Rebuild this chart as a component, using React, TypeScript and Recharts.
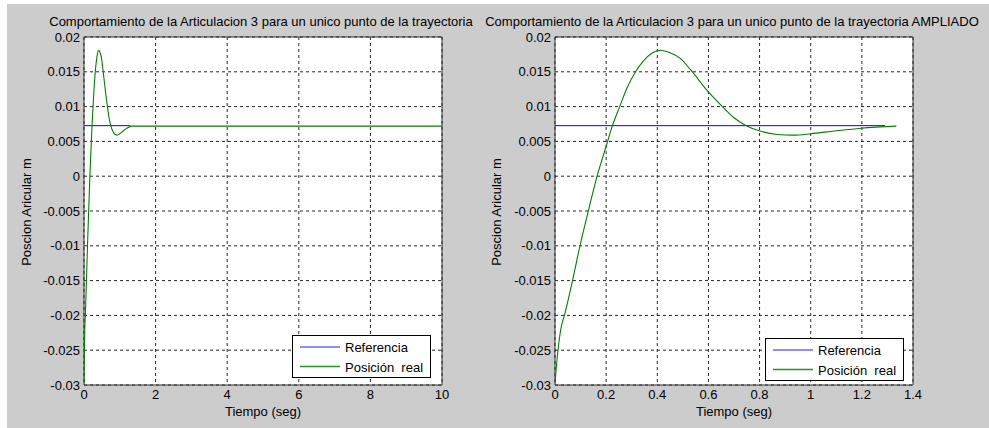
import { CartesianGrid, Legend, Line, LineChart, ReferenceArea, XAxis, YAxis } from "recharts";

const tiempo = [0, 0.009, 0.022, 0.039, 0.069, 0.097, 0.131, 0.163, 0.2, 0.224, 0.253, 0.282, 0.315, 0.347, 0.38, 0.413, 0.452, 0.491, 0.53, 0.598, 0.655, 0.7, 0.746, 0.805, 0.87, 0.93, 1.0, 1.093, 1.197, 1.335];
const posicionReal = [-0.0298, -0.0259, -0.0221, -0.0197, -0.0149, -0.0101, -0.0049, -0.0002, 0.0043, 0.0072, 0.01, 0.0127, 0.015, 0.0166, 0.0177, 0.0181, 0.0177, 0.0169, 0.0153, 0.0122, 0.01, 0.0084, 0.0073, 0.00645, 0.006, 0.0059, 0.0061, 0.0065, 0.0069, 0.0072];
// en la grafica completa la posicion se queda fija hasta t = 10
const colaTiempo = [10];
const colaPosicion = [0.0072];

const referenciaTiempo = [0, 1.29];
const referencia = [0.00726, 0.00726];

const yTicks = [-0.03, -0.025, -0.02, -0.015, -0.01, -0.005, 0, 0.005, 0.01, 0.015, 0.02];
const xTicksCompleto = [0, 2, 4, 6, 8, 10];
const xTicksAmpliado = [0, 0.2, 0.4, 0.6, 0.8, 1, 1.2, 1.4];

const TITULO = "Comportamiento de la Articulacion 3 para un unico punto de la trayectoria";
const SERIES = ["Referencia", "Posición  real"];
const FONT = "Arial, 'Liberation Sans', sans-serif";
const AZUL = "#0000ff";
const VERDE = "#008000";

const realAmpliado = tiempo.map((t, i) => ({ t, v: posicionReal[i] }));
const realCompleto = [...realAmpliado, ...colaTiempo.map((t, i) => ({ t, v: colaPosicion[i] }))];
const refData = referenciaTiempo.map((t, i) => ({ t, v: referencia[i] }));

const tickStyle = { fill: "#000", fontSize: 13, fontFamily: FONT };

function LegendBox({ payload }: any) {
  const items = (payload || [])
    .filter((p: any) => SERIES.includes(p.value))
    .sort((a: any, b: any) => SERIES.indexOf(a.value) - SERIES.indexOf(b.value));
  return (
    <svg width={139} height={43} style={{ display: "block" }}>
      <rect x={0.5} y={0.5} width={138} height={42} fill="#fff" stroke="#000" />
      {items.map((p: any, i: number) => {
        const cy = 12 + i * 19.5;
        return (
          <g key={p.value}>
            <line x1={8} x2={48} y1={cy} y2={cy} stroke={p.color} strokeWidth={1.3} strokeOpacity={i === 0 ? 0.6 : 0.85} />
            <text x={53} y={cy + 5} fontSize={13} fontFamily={FONT} fill="#000" style={{ whiteSpace: "pre" }}>{p.value}</text>
          </g>
        );
      })}
    </svg>
  );
}

function Panel({ width, yAxisWidth, right, xMax, xTicks, real, legendLeft, legendTop }: any) {
  return (
    <LineChart width={width} height={424} margin={{ top: 33, right, bottom: 0, left: 0 }}>
      <CartesianGrid stroke="#000" strokeDasharray="3 3" strokeOpacity={0.85} fill="#fff" />
      <XAxis
        type="number"
        dataKey="t"
        domain={[0, xMax]}
        ticks={xTicks}
        allowDataOverflow
        height={43}
        tick={tickStyle}
        tickLine={false}
        tickSize={4}
        tickMargin={1}
        axisLine={false}
        label={{ value: "Tiempo (seg)", position: "insideBottom", offset: 12, fill: "#000", fontSize: 13, fontFamily: FONT }}
      />
      <YAxis
        type="number"
        dataKey="v"
        domain={[-0.03, 0.02]}
        ticks={yTicks}
        allowDataOverflow
        width={yAxisWidth}
        tick={tickStyle}
        tickLine={false}
        tickSize={4}
        tickMargin={0}
        axisLine={false}
        tickFormatter={(v: number) => String(v)}
      />
      <Line data={refData} dataKey="v" name={SERIES[0]} type="linear" stroke={AZUL} strokeWidth={1} dot={false} isAnimationActive={false} />
      <Line data={real} dataKey="v" name={SERIES[1]} type="monotone" stroke={VERDE} strokeWidth={1.1} dot={false} isAnimationActive={false} />
      <ReferenceArea x1={0} x2={xMax} y1={-0.03} y2={0.02} fill="none" stroke="#333" strokeWidth={1} ifOverflow="visible" />
      <Legend
        layout="vertical"
        align="center"
        verticalAlign="middle"
        wrapperStyle={{ left: legendLeft, top: legendTop, width: 139, height: 43 }}
        content={(props: any) => <LegendBox {...props} />}
      />
    </LineChart>
  );
}

export default function App() {
  return (
    <div style={{ position: "absolute", left: 0, top: 0, width: 989, height: 428, background: "#fff", overflow: "hidden" }}>
      <div style={{ position: "absolute", left: 7, top: 4, width: 982, height: 424, background: "#cccccc" }}>
        <div style={{ position: "absolute", left: -7, top: 0 }}>
          <Panel width={470} yAxisWidth={84} right={28} xMax={10} xTicks={xTicksCompleto} real={realCompleto} legendLeft={292} legendTop={331} />
        </div>
        <div style={{ position: "absolute", left: 463, top: 0 }}>
          <Panel width={519} yAxisWidth={85} right={76} xMax={1.4} xTicks={xTicksAmpliado} real={realAmpliado} legendLeft={295} legendTop={334} />
        </div>
        <svg width={982} height={424} style={{ position: "absolute", left: 0, top: 0, pointerEvents: "none" }} fontFamily={FONT} fontSize={13} fill="#000">
          <text x={254} y={22} textAnchor="middle">{TITULO}</text>
          <text x={725} y={22} textAnchor="middle">{TITULO + " AMPLIADO"}</text>
          <text transform="translate(24 208) rotate(-90)" textAnchor="middle">Poscion Aricular m</text>
          <text transform="translate(494 208) rotate(-90)" textAnchor="middle">Poscion Aricular m</text>
        </svg>
      </div>
    </div>
  );
}
